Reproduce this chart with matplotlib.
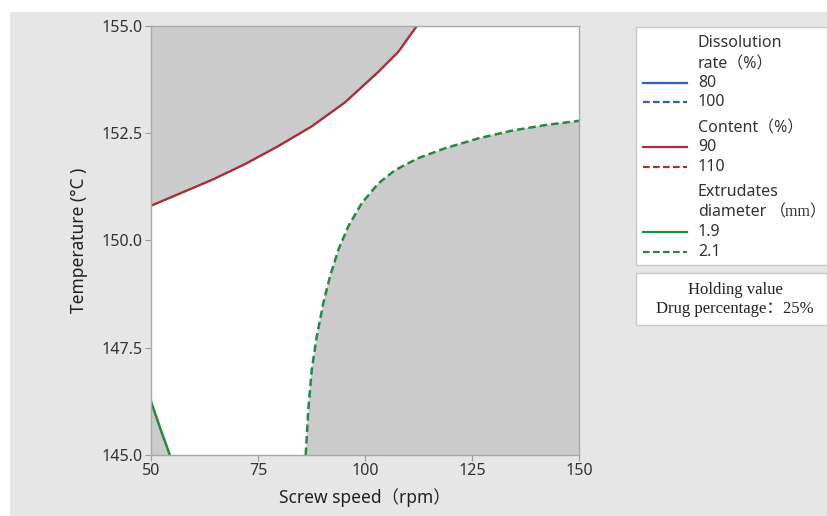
import matplotlib

matplotlib.use("Agg")
import matplotlib.pyplot as plt
from matplotlib.lines import Line2D
from matplotlib.patches import Rectangle

plt.rcParams["font.family"] = ["Noto Sans", "Noto Sans CJK SC", "DejaVu Sans"]

# contour curves (screw speed, temperature)
content90_x = [50.0, 56.38, 64.18, 71.96, 79.74, 87.55, 95.33, 103.1, 107.8, 112.1]
content90_y = [150.81, 151.08, 151.41, 151.78, 152.20, 152.66, 153.22, 153.93, 154.40, 155.0]

diam21_x = [86.14, 86.75, 87.55, 88.72, 90.26, 91.82, 93.76, 96.10, 99.23,
            103.11, 107.01, 112.45, 118.69, 126.47, 134.28, 142.06, 150.0]
diam21_y = [145.0, 146.05, 146.98, 147.76, 148.54, 149.16, 149.78, 150.33, 150.87,
            151.33, 151.64, 151.92, 152.15, 152.38, 152.56, 152.69, 152.79]

diam19_x = [50.0, 52.1, 54.4]
diam19_y = [146.25, 145.64, 145.0]

x_ticks = [50, 75, 100, 125, 150]
y_ticks = [145.0, 147.5, 150.0, 152.5, 155.0]

BLUE = "#2c63b3"
RED = "#a3303a"
GREEN = "#238a3e"
SHADE = "#cbcbcb"
BG = "#e6e6e6"
SERIF = ["Liberation Serif", "Noto Sans CJK SC"]

W, H = 828, 516
fig = plt.figure(figsize=(W / 100, H / 100), dpi=100, facecolor="white")


def px(x0, y0, w, h):
    # pixel box (top-left origin) -> figure fraction
    return [x0 / W, 1 - (y0 + h) / H, w / W, h / H]


bg = px(10, 12, W - 10, H - 12)
fig.patches.append(Rectangle(bg[:2], bg[2], bg[3], transform=fig.transFigure,
                             facecolor=BG, edgecolor="none", zorder=-10))

ax = fig.add_axes(px(151, 26, 428, 429))
ax.set_facecolor("white")

# shaded infeasible regions
ax.fill_between(content90_x, content90_y, 155, color=SHADE, lw=0)
ax.fill(diam21_x + [150.0], diam21_y + [145.0], color=SHADE, lw=0)
ax.fill(diam19_x + [50.0], diam19_y + [145.0], color=SHADE, lw=0)

ax.plot(content90_x, content90_y, color=RED, lw=1.7)
ax.plot(diam21_x, diam21_y, color=GREEN, lw=1.8, ls=(0, (3, 1.6)))
ax.plot(diam19_x, diam19_y, color=GREEN, lw=1.8)

ax.set_xlim(50, 150)
ax.set_ylim(145, 155)
ax.set_xticks(x_ticks)
ax.set_yticks(y_ticks)
ax.set_yticklabels([f"{v:.1f}" for v in y_ticks])
ax.tick_params(direction="out", length=4, color="#9a9a9a", labelsize=11.5,
               labelcolor="#333333", pad=2)
for s in ax.spines.values():
    s.set_color("#a8a8a8")
    s.set_linewidth(1.0)

ax.set_xlabel("Screw speed（rpm）", fontsize=12.5, color="#222222", labelpad=6)
ax.set_ylabel("Temperature (°C )", fontsize=12.5, color="#222222",
              fontweight="semibold", labelpad=10)

# legend box
lb = px(636, 27, W - 637, 238)
fig.patches.append(Rectangle(lb[:2], lb[2], lb[3], transform=fig.transFigure,
                             facecolor="white", edgecolor="#c8c8c8", lw=1, zorder=1))

legend_rows = [
    ("Dissolution", None, None, 43),
    ("rate（%）", None, None, 64),
    ("80", BLUE, "-", 83),
    ("100", BLUE, "--", 102),
    ("Content（%）", None, None, 128),
    ("90", RED, "-", 147),
    ("110", RED, "--", 167),
    ("Extrudates", None, None, 192),
    ("diameter", None, None, 212),
    ("1.9", GREEN, "-", 232),
    ("2.1", GREEN, "--", 252),
]
for label, color, ls, ypix in legend_rows:
    yf = 1 - ypix / H
    fig.text(698 / W, yf, label, fontsize=11.5, color="#333333", va="center", ha="left")
    if color is not None:
        dash = (0, (3, 1.5)) if ls == "--" else "-"
        fig.add_artist(Line2D([643 / W, 687 / W], [yf, yf], transform=fig.transFigure,
                              color=color, lw=1.6, ls=dash))
fig.text(770 / W, 1 - 212 / H, "（mm）", fontsize=11.5, color="#333333", va="center",
         ha="left", family=SERIF)

# holding value box
hb = px(636, 273, W - 637, 52)
fig.patches.append(Rectangle(hb[:2], hb[2], hb[3], transform=fig.transFigure,
                             facecolor="white", edgecolor="#c8c8c8", lw=1, zorder=1))
fig.text(735 / W, 1 - 290 / H, "Holding value", fontsize=12, color="#222222",
         ha="center", va="center", family=SERIF)
fig.text(735 / W, 1 - 309 / H, "Drug percentage：25%", fontsize=12, color="#222222",
         ha="center", va="center", family=SERIF)

fig.savefig("out.png", dpi=100, facecolor=fig.get_facecolor())
